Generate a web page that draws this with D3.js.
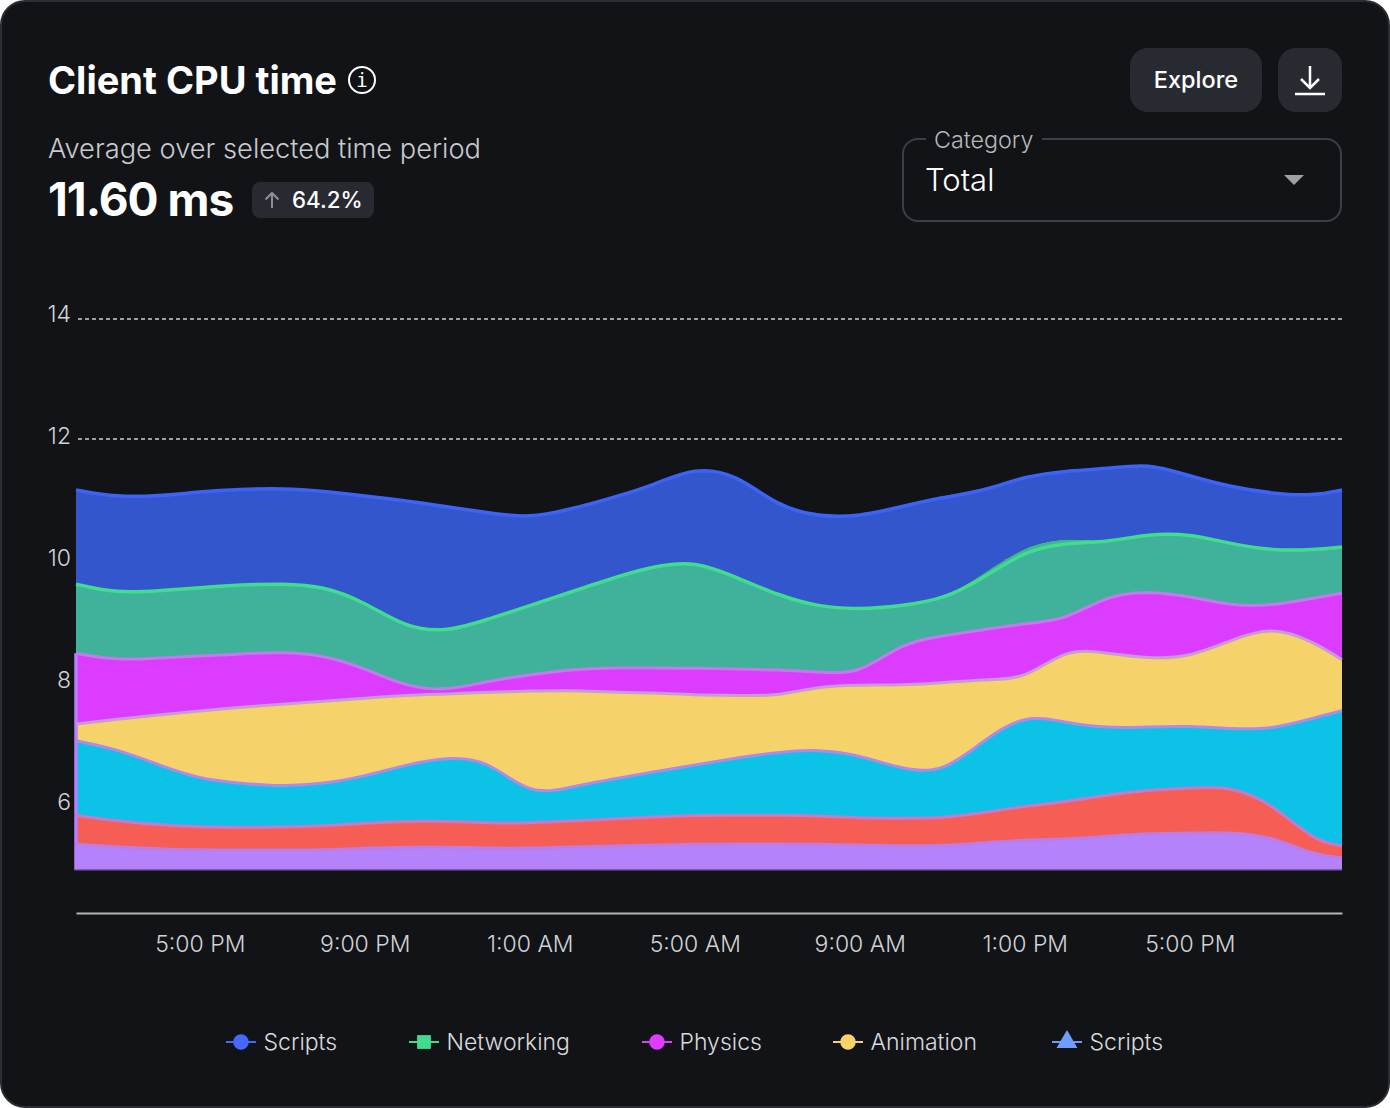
<!DOCTYPE html>
<html>
<head>
<meta charset="utf-8">
<script src="https://cdn.jsdelivr.net/npm/d3@7"></script>
<style>
html, body { margin: 0; padding: 0; background: #fff; }
svg { display: block; }
text { font-family: Inter, "Noto Sans", sans-serif; }
</style>
</head>
<body>
<svg id="chart" width="1390" height="1108"></svg>
<script>
// hours since 2:00 PM on the first day, one sample per hour, last one at the chart edge
let hours = [0, 1, 2, 3, 4, 5, 6, 7, 8, 9, 10, 11, 12, 13, 14, 15, 16, 17, 18, 19, 20, 21, 22, 23, 24, 25, 26, 27, 28, 29, 30, 30.69];

// stacked top edge of each band, ms
let scriptsTop = [11.15, 11.03, 11.05, 11.12, 11.16, 11.18, 11.13, 11.05, 10.97, 10.87, 10.77, 10.68, 10.83, 11.02, 11.23, 11.53, 11.42, 10.88, 10.70, 10.71, 10.87, 11.03, 11.13, 11.38, 11.47, 11.50, 11.60, 11.38, 11.20, 11.09, 11.05, 11.15];
let networkingTop = [9.58, 9.43, 9.47, 9.52, 9.57, 9.59, 9.55, 9.28, 8.85, 8.78, 9.00, 9.22, 9.45, 9.68, 9.88, 9.97, 9.70, 9.40, 9.20, 9.16, 9.22, 9.32, 9.68, 10.14, 10.27, 10.28, 10.42, 10.42, 10.25, 10.14, 10.15, 10.20];
let networkingFillTop = [9.58, 9.43, 9.47, 9.52, 9.57, 9.59, 9.55, 9.28, 8.85, 8.78, 9.00, 9.22, 9.45, 9.68, 9.88, 9.97, 9.70, 9.40, 9.20, 9.16, 9.22, 9.32, 9.75, 10.22, 10.36, 10.28, 10.40, 10.42, 10.25, 10.14, 10.15, 10.20];
let physicsTop = [8.43, 8.31, 8.35, 8.38, 8.42, 8.45, 8.40, 8.18, 7.87, 7.80, 7.97, 8.07, 8.16, 8.19, 8.18, 8.18, 8.17, 8.15, 8.12, 8.07, 8.60, 8.72, 8.82, 8.93, 8.98, 9.40, 9.46, 9.38, 9.22, 9.22, 9.35, 9.43];
let animationTop = [7.25, 7.33, 7.40, 7.47, 7.53, 7.58, 7.63, 7.68, 7.73, 7.75, 7.78, 7.80, 7.81, 7.78, 7.77, 7.73, 7.73, 7.71, 7.88, 7.90, 7.90, 7.93, 8.00, 7.98, 8.52, 8.43, 8.34, 8.36, 8.65, 8.88, 8.62, 8.32];
let renderTop = [6.97, 6.83, 6.57, 6.33, 6.26, 6.21, 6.25, 6.38, 6.57, 6.70, 6.65, 6.05, 6.20, 6.33, 6.45, 6.57, 6.68, 6.78, 6.83, 6.73, 6.50, 6.42, 6.98, 7.42, 7.27, 7.18, 7.20, 7.22, 7.17, 7.16, 7.35, 7.47];
let audioTop = [5.73, 5.63, 5.57, 5.53, 5.53, 5.53, 5.55, 5.60, 5.63, 5.63, 5.60, 5.60, 5.63, 5.67, 5.70, 5.73, 5.73, 5.73, 5.72, 5.68, 5.68, 5.68, 5.77, 5.88, 5.95, 6.07, 6.15, 6.18, 6.22, 5.92, 5.30, 5.22];
let otherTop = [5.25, 5.20, 5.17, 5.15, 5.15, 5.15, 5.15, 5.18, 5.20, 5.20, 5.18, 5.18, 5.20, 5.22, 5.23, 5.25, 5.25, 5.25, 5.25, 5.23, 5.22, 5.22, 5.27, 5.32, 5.33, 5.38, 5.43, 5.43, 5.45, 5.37, 5.07, 5.02];
let floorValue = 4.82;

let xTickHours = [3, 7, 11, 15, 19, 23, 27];
let xTickLabels = ['5:00 PM', '9:00 PM', '1:00 AM', '5:00 AM', '9:00 AM', '1:00 PM', '5:00 PM'];
let yTicks = [14, 12, 10, 8, 6];
let legendNames = ['Scripts', 'Networking', 'Physics', 'Animation', 'Scripts'];
let legendColors = ['#4668ff', '#41dc8e', '#df3cff', '#f7d26b', '#6f9ef8'];
let legendShapes = [d3.symbolCircle, d3.symbolSquare, d3.symbolCircle, d3.symbolCircle, d3.symbolTriangle];
let legendX = [226, 409, 642, 833, 1052];

let bands = [
	{ top: scriptsTop, next: networkingFillTop, fill: '#3356cd', line: '#3d63f5', width: 3.5 },
	{ top: networkingFillTop, next: physicsTop, lineTop: networkingTop, fill: '#40b19b', line: '#41dc8e', width: 3.5 },
	{ top: physicsTop, next: animationTop, fill: '#dc3cff', line: '#c07dea', width: 3 },
	{ top: animationTop, next: renderTop, fill: '#f6d26b', line: '#c79ad8', width: 3 },
	{ top: renderTop, next: audioTop, fill: '#0cc2e6', line: '#b08ae6', width: 3 },
	{ top: audioTop, next: otherTop, fill: '#f65d55', line: '#c27ccb', width: 3 },
	{ top: otherTop, next: hours.map(() => floorValue), fill: '#b482fb', line: '#c07ce0', width: 3 },
];

let svg = d3.select('#chart');

let x = d3.scaleLinear().domain([0, 30.69]).range([76, 1342]);
let y = d3.scaleLinear().domain([14, 10]).range([319, 559]);
// the tick labels do not sit quite on the grid in the original
let yLabel = d3.scaleLinear().domain([14, 6]).range([314, 802]);

// card
svg.append('rect').attr('x', 1).attr('y', 1).attr('width', 1388).attr('height', 1106)
	.attr('rx', 24).attr('fill', '#111317').attr('stroke', '#2b2d33').attr('stroke-width', 2);

// header
svg.append('text').attr('x', 48).attr('y', 94).text('Client CPU time')
	.attr('fill', '#fff').attr('font-size', 38).attr('font-weight', 650);
svg.append('circle').attr('cx', 362).attr('cy', 80).attr('r', 13)
	.attr('fill', 'none').attr('stroke', '#fff').attr('stroke-width', 2);
svg.append('text').attr('x', 362).attr('y', 87).text('i').attr('text-anchor', 'middle')
	.attr('fill', '#fff').attr('font-size', 19).style('font-family', 'DejaVu Sans Mono');
svg.append('text').attr('x', 48).attr('y', 158).text('Average over selected time period')
	.attr('fill', '#c8cacd').attr('font-size', 27.25).attr('font-weight', 300);
svg.append('text').attr('x', 48).attr('y', 216).text('11.60 ms')
	.attr('fill', '#fff').attr('font-size', 46).attr('font-weight', 650).attr('letter-spacing', -1);

svg.append('rect').attr('x', 252).attr('y', 182).attr('width', 122).attr('height', 36)
	.attr('rx', 8).attr('fill', '#282a31');
svg.append('path').attr('d', 'M272 208V193M265.500 199.500L272 193L278.500 199.500')
	.attr('fill', 'none').attr('stroke', '#8e9095').attr('stroke-width', 2);
svg.append('text').attr('x', 292).attr('y', 208).text('64.2%')
	.attr('fill', '#fff').attr('font-size', 22.3).attr('font-weight', 550);

// buttons
svg.append('rect').attr('x', 1130).attr('y', 48).attr('width', 132).attr('height', 64)
	.attr('rx', 18).attr('fill', '#282a31');
svg.append('text').attr('x', 1196).attr('y', 88).text('Explore').attr('text-anchor', 'middle')
	.attr('fill', '#fff').attr('font-size', 23.5).attr('font-weight', 500);
svg.append('rect').attr('x', 1278).attr('y', 48).attr('width', 64).attr('height', 64)
	.attr('rx', 18).attr('fill', '#282a31');
svg.append('path').attr('d', 'M1310 66V88M1301 79L1310 88L1319 79M1295 94H1325')
	.attr('fill', 'none').attr('stroke', '#fff').attr('stroke-width', 2.5);

// category select
svg.append('path')
	.attr('d', 'M926 139H918A15 15 0 0 0 903 154V206A15 15 0 0 0 918 221H1326A15 15 0 0 0 1341 206V154A15 15 0 0 0 1326 139H1042')
	.attr('fill', 'none').attr('stroke', '#3d3f45').attr('stroke-width', 2);
svg.append('text').attr('x', 934).attr('y', 148).text('Category')
	.attr('fill', '#b6b8bb').attr('font-size', 23.3).attr('font-weight', 300);
svg.append('text').attr('x', 925).attr('y', 191).text('Total')
	.attr('fill', '#fff').attr('font-size', 31).attr('font-weight', 300);
svg.append('path').attr('d', 'M1284 175H1304L1294 185Z').attr('fill', '#a0a1a4');

// grid
svg.append('g').selectAll('line').data(yTicks).enter().append('line')
	.attr('x1', 78).attr('x2', 1342)
	.attr('y1', (d) => y(d)).attr('y2', (d) => y(d))
	.attr('stroke', '#fff').attr('stroke-opacity', 0.8).attr('stroke-dasharray', '4 3').attr('stroke-width', 1.5);

svg.append('g').selectAll('text').data(yTicks).enter().append('text')
	.attr('x', 71).attr('y', (d) => yLabel(d) + 8).attr('text-anchor', 'end')
	.text((d) => d).attr('fill', '#d0d2d5').attr('font-size', 23).attr('font-weight', 350);

// bands
let bandArea = d3.area()
	.x((d) => x(d.hour))
	.y0((d) => y(d.low))
	.y1((d) => y(d.high))
	.curve(d3.curveBasis);
let topLine = d3.line()
	.x((d) => x(d.hour))
	.y((d) => y(d.edge))
	.curve(d3.curveBasis);

let bandData = bands.map((band) => {
	return hours.map((hour, i) => {
		return { hour: hour, high: band.top[i], low: band.next[i], edge: (band.lineTop || band.top)[i] };
	});
});

svg.append('g').selectAll('path').data(bandData).enter().append('path')
	.attr('d', bandArea)
	.attr('fill', (d, i) => bands[i].fill);

// left edge of the lower bands, same tint as their lines
svg.append('line')
	.attr('x1', x(0)).attr('x2', x(0))
	.attr('y1', y(physicsTop[0])).attr('y2', y(floorValue))
	.attr('stroke', '#b482fb').attr('stroke-width', 3.5);
svg.append('line')
	.attr('x1', x(0) - 1.5).attr('x2', x(30.69))
	.attr('y1', y(floorValue)).attr('y2', y(floorValue))
	.attr('stroke', '#7b5bb0').attr('stroke-width', 1.5);

svg.append('g').selectAll('path').data(bandData).enter().append('path')
	.attr('d', topLine)
	.attr('fill', 'none')
	.attr('stroke', (d, i) => bands[i].line)
	.attr('stroke-width', (d, i) => bands[i].width);

// x axis
let xAxis = d3.axisBottom(x)
	.tickValues(xTickHours)
	.tickSize(0)
	.tickPadding(23)
	.tickFormat((d, i) => xTickLabels[i]);
let xAxisGroup = svg.append('g').attr('transform', 'translate(0, 913)').call(xAxis);
xAxisGroup.select('.domain').attr('stroke', '#b5b6b8').attr('stroke-width', 2);
xAxisGroup.selectAll('text')
	.attr('fill', '#d0d2d5').attr('font-size', 23).attr('font-weight', 350)
	.style('font-family', 'Inter');

// legend
let legendItem = svg.append('g').selectAll('g').data(legendNames).enter().append('g')
	.attr('transform', (d, i) => 'translate(' + legendX[i] + ', 1042)');
legendItem.append('line').attr('x1', 0).attr('x2', 30)
	.attr('stroke', (d, i) => legendColors[i]).attr('stroke-width', 2);
legendItem.append('path')
	.attr('transform', 'translate(15, 0)')
	.attr('d', (d, i) => d3.symbol().type(legendShapes[i]).size(190)())
	.attr('fill', (d, i) => legendColors[i]);
legendItem.append('text').attr('x', 37.5).attr('y', 8).text((d) => d)
	.attr('fill', '#d8dadd').attr('font-size', 23).attr('font-weight', 350);
</script>
</body>
</html>
